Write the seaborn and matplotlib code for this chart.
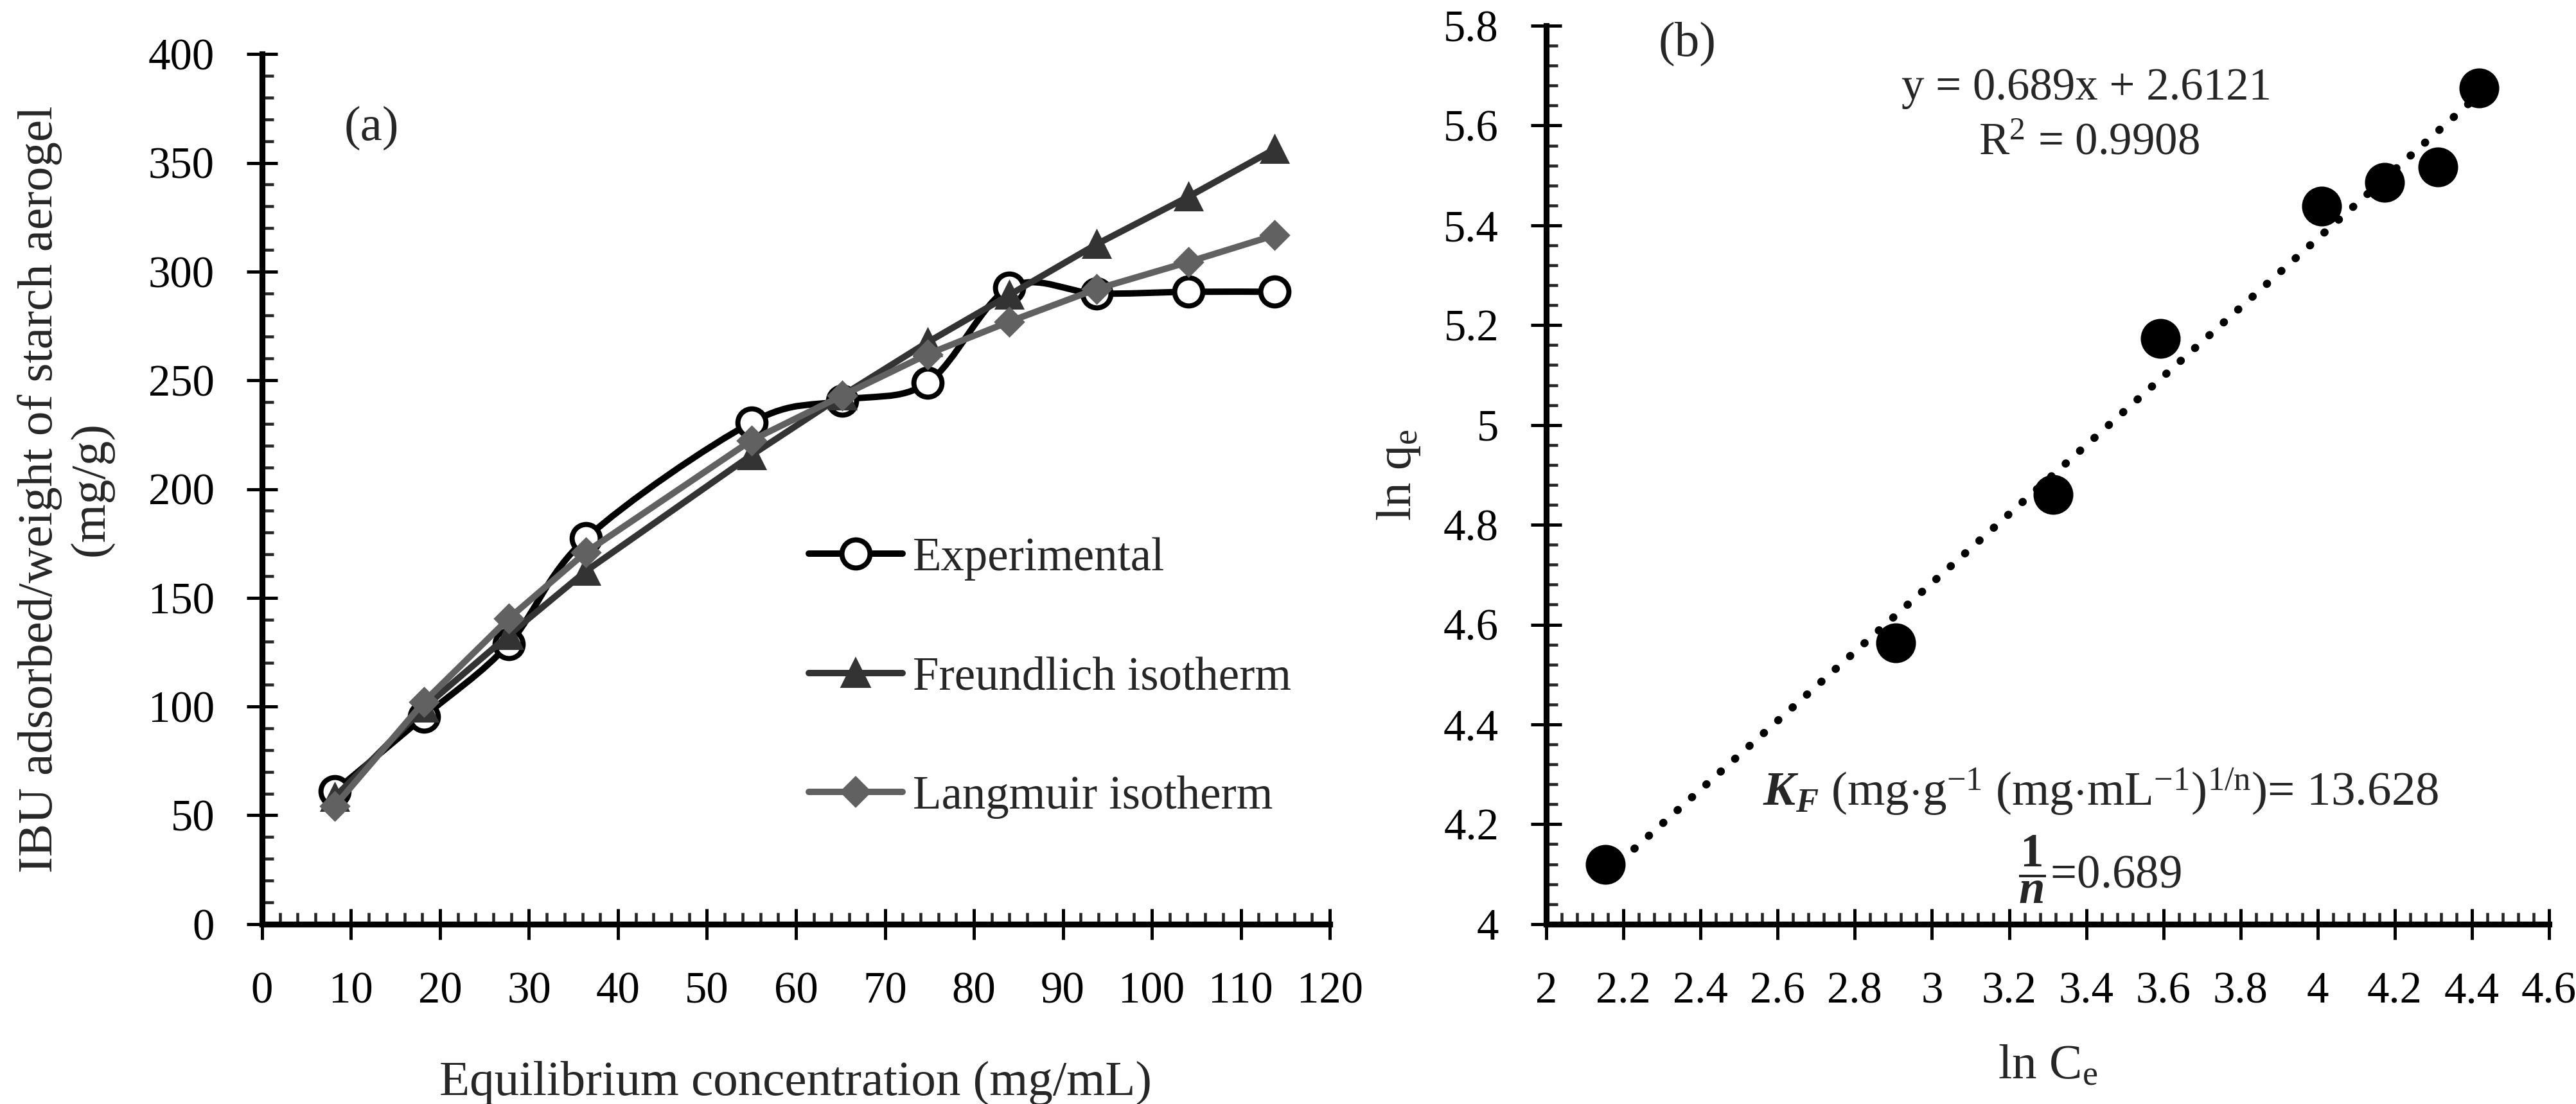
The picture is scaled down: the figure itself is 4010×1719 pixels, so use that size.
import numpy as np
import pandas as pd
import seaborn as sns
import matplotlib.pyplot as plt
from matplotlib.path import Path
from matplotlib.patches import PathPatch
from matplotlib.lines import Line2D
from matplotlib.ticker import MultipleLocator

# (a) isotherm data
conc = [8.2, 18.2, 27.7, 36.4, 55.0, 65.2, 74.8, 84.0, 93.8, 104.1, 113.8]
experimental = [61.2, 95.4, 128.7, 177.3, 230.6, 240.7, 248.9, 292.6, 289.9, 290.7, 290.7]
freundlich = [58.5, 99.5, 132.8, 162.3, 215.6, 243.0, 267.5, 289.3, 312.6, 334.4, 356.3]
langmuir = [54.4, 102.2, 140.4, 171.0, 222.4, 243.0, 262.0, 277.0, 292.0, 304.4, 316.7]

# (b) linearised Freundlich plot
ln_ce = [2.154, 2.906, 3.314, 3.592, 4.010, 4.173, 4.311, 4.418]
ln_qe = [4.119, 4.564, 4.861, 5.174, 5.438, 5.486, 5.517, 5.675]

sns.set_style("ticks")
plt.rcParams["font.family"] = ["Liberation Serif", "DejaVu Serif"]
plt.rcParams["mathtext.fontset"] = "custom"
plt.rcParams["mathtext.rm"] = "Liberation Serif"
plt.rcParams["mathtext.it"] = "Liberation Serif:italic"
plt.rcParams["mathtext.bf"] = "Liberation Serif:bold"
plt.rcParams["mathtext.bfit"] = "Liberation Serif:bold:italic"

TICK = 16.5
LAB = 18.5
ANN = 17.5


def style_axes(ax):
    for s in ["top", "right"]:
        ax.spines[s].set_visible(False)
    for s in ["left", "bottom"]:
        ax.spines[s].set_linewidth(2.2)
        ax.spines[s].set_color("black")
    ax.tick_params(which="major", direction="inout", length=11.5, width=1.2,
                   labelsize=TICK, colors="black", pad=12)
    ax.tick_params(which="minor", direction="in", length=4.4, width=1.1)
    ax.grid(False)


def smooth_path(x, y):
    # excel style smoothed line (catmull-rom as cubic bezier)
    x = np.asarray(x, float)
    y = np.asarray(y, float)
    px = np.concatenate([[x[0]], x, [x[-1]]])
    py = np.concatenate([[y[0]], y, [y[-1]]])
    verts = [(x[0], y[0])]
    codes = [Path.MOVETO]
    for i in range(1, len(x)):
        c1 = (px[i] + (px[i + 1] - px[i - 1]) / 6, py[i] + (py[i + 1] - py[i - 1]) / 6)
        c2 = (px[i + 1] - (px[i + 2] - px[i]) / 6, py[i + 1] - (py[i + 2] - py[i]) / 6)
        verts += [c1, c2, (px[i + 1], py[i + 1])]
        codes += [Path.CURVE4] * 3
    return Path(verts, codes)


fig = plt.figure(figsize=(4011 / 300, 1719 / 300), dpi=300)
ax1 = fig.add_axes([0.1017, 0.163, 0.4144, 0.788])
ax2 = fig.add_axes([0.6001, 0.163, 0.3892, 0.8137])

# ---- panel (a)
ax1.add_patch(PathPatch(smooth_path(conc, experimental), fill=False,
                        edgecolor="black", lw=2.4, zorder=2))
sns.lineplot(x=conc, y=experimental, ax=ax1, marker="o", linestyle="none",
             markersize=10.5, markerfacecolor="white", markeredgecolor="black",
             markeredgewidth=1.9, zorder=3)
sns.lineplot(x=conc, y=freundlich, ax=ax1, color="#333333", lw=2.4,
             marker="^", markersize=10, markeredgecolor="#333333", zorder=4)
sns.lineplot(x=conc, y=langmuir, ax=ax1, color="#616161", lw=2.4,
             marker="D", markersize=7.5, markeredgecolor="#616161", zorder=5)

handles = [
    Line2D([], [], color="black", lw=2.4, marker="o", markersize=10.5,
           markerfacecolor="white", markeredgecolor="black", markeredgewidth=1.9),
    Line2D([], [], color="#333333", lw=2.4, marker="^", markersize=10),
    Line2D([], [], color="#616161", lw=2.4, marker="D", markersize=7.5),
]
ax1.legend(handles, ["Experimental", "Freundlich isotherm", "Langmuir isotherm"],
           loc="center left", bbox_to_anchor=(0.512, 0.283), frameon=False,
           fontsize=ANN, handlelength=2.0, handletextpad=0.22,
           labelspacing=1.62, borderpad=0, borderaxespad=0)

ax1.set_xlim(0, 120)
ax1.set_ylim(0, 400)
ax1.xaxis.set_major_locator(MultipleLocator(10))
ax1.xaxis.set_minor_locator(MultipleLocator(2))
ax1.yaxis.set_major_locator(MultipleLocator(50))
ax1.yaxis.set_minor_locator(MultipleLocator(10))
style_axes(ax1)
ax1.set_xlabel("Equilibrium concentration (mg/mL)", fontsize=LAB, labelpad=18)
ax1.set_ylabel("IBU adsorbed/weight of starch aerogel\n(mg/g)", fontsize=LAB,
               labelpad=13, linespacing=1.2)
ax1.text(12.3, 366, "(a)", fontsize=LAB, ha="center", va="center")

# ---- panel (b)
sns.regplot(x=ln_ce, y=ln_qe, ax=ax2, scatter=False, ci=None, truncate=True,
            line_kws=dict(color="black", lw=3.0, linestyle=(0, (0.05, 2.35)),
                          dash_capstyle="round"))
sns.scatterplot(x=ln_ce, y=ln_qe, ax=ax2, s=190, color="black",
                edgecolor="black", zorder=4)

ax2.set_xlim(2, 4.6)
ax2.set_ylim(4, 5.8)
ax2.xaxis.set_major_locator(MultipleLocator(0.2))
ax2.xaxis.set_minor_locator(MultipleLocator(0.04))
ax2.yaxis.set_major_locator(MultipleLocator(0.2))
ax2.yaxis.set_minor_locator(MultipleLocator(0.04))
style_axes(ax2)
ax2.set_xticklabels([f"{v:g}" for v in ax2.get_xticks()])
ax2.set_yticklabels([f"{v:g}" for v in ax2.get_yticks()])
ax2.set_xlabel(r"ln C$_\mathrm{e}$", fontsize=LAB, labelpad=12)
ax2.set_ylabel(r"ln q$_\mathrm{e}$", fontsize=LAB, labelpad=8)

ax2.text(2.365, 5.764, "(b)", fontsize=LAB, ha="center", va="center")
ax2.text(3.40, 5.675, "y = 0.689x + 2.6121", fontsize=17,
         ha="center", va="center")
ax2.text(3.407, 5.565, r"R$^2$ = 0.9908", fontsize=17,
         ha="center", va="center")
ax2.text(3.437, 4.265,
         r"$\mathbfit{K}_{\mathbfit{F}}$ (mg$\cdot$g$^{-1}$ (mg$\cdot$mL$^{-1}$)$^{\mathrm{1/n}}$)= 13.628",
         fontsize=18, ha="center", va="center")
ax2.text(3.436, 4.11, r"$\dfrac{\mathbf{1}}{\mathbfit{n}}$=0.689",
         fontsize=ANN, ha="center", va="center")

fig.savefig("out.png", dpi=300)
